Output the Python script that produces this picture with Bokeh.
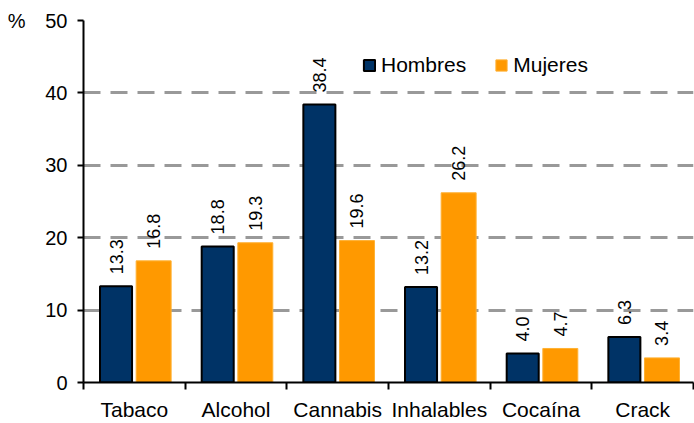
import numpy as np
from bokeh.plotting import figure
from bokeh.models import ColumnDataSource, Range1d, FixedTicker, LinearAxis
from bokeh.transform import dodge
from bokeh.embed import file_html
from bokeh.resources import INLINE
from bokeh.core.properties import value

categories = ["Tabaco", "Alcohol", "Cannabis", "Inhalables", "Cocaína", "Crack"]
hombres = [13.3, 18.8, 38.4, 13.2, 4.0, 6.3]
mujeres = [16.8, 19.3, 19.6, 26.2, 4.7, 3.4]
y_ticks = [0, 10, 20, 30, 40, 50]

FONT = "Liberation Sans"
NAVY = "#003366"
ORANGE = "#FF9900"

xpos = np.arange(len(categories)) + 0.5
src = ColumnDataSource(dict(
    x=xpos,
    hombres=hombres,
    mujeres=mujeres,
    lab_h=[f"{v:.1f}" for v in hombres],
    lab_m=[f"{v:.1f}" for v in mujeres],
))

p = figure(width=694, height=423, output_backend="svg", toolbar_location=None,
           x_range=Range1d(0, len(categories)), y_range=Range1d(0, 50))
p.min_border_left = 83
p.min_border_right = 1
p.min_border_top = 20
p.min_border_bottom = 40
p.outline_line_color = None
p.background_fill_color = "white"

p.vbar(x=dodge("x", -0.18, range=p.x_range), top="hombres", width=0.315, source=src,
       fill_color=NAVY, line_color="black", line_width=2, legend_label="Hombres")
p.vbar(x=dodge("x", 0.19, range=p.x_range), top="mujeres", width=0.344, source=src,
       fill_color=ORANGE, line_color="#FFB133", line_width=1, legend_label="Mujeres")

p.text(x=dodge("x", -0.18, range=p.x_range), y="hombres", text="lab_h", source=src,
       angle=np.pi / 2, text_align="left", text_baseline="middle",
       x_offset=0, y_offset=-12, text_font=value(FONT), text_font_size="18px", text_color="black")
p.text(x=dodge("x", 0.19, range=p.x_range), y="mujeres", text="lab_m", source=src,
       angle=np.pi / 2, text_align="left", text_baseline="middle",
       x_offset=0, y_offset=-12, text_font=value(FONT), text_font_size="18px", text_color="black")

# grid
p.xgrid.grid_line_color = None
p.ygrid.ticker = FixedTicker(ticks=y_ticks[1:])
p.ygrid.grid_line_color = "#999999"
p.ygrid.grid_line_width = 3
p.ygrid.grid_line_dash = "17 10"

# y axis
ya = p.yaxis[0]
ya.ticker = FixedTicker(ticks=y_ticks)
ya.axis_line_color = "black"
ya.axis_line_width = 2
ya.major_tick_line_color = "black"
ya.major_tick_line_width = 2
ya.major_tick_out = 6
ya.major_tick_in = 0
ya.minor_tick_line_color = None
ya.major_label_text_font = FONT
ya.major_label_text_font_size = "20px"
ya.major_label_text_color = "black"
ya.major_label_standoff = 10

# unit label "%" as an extra, line-less axis
unit_axis = LinearAxis(ticker=FixedTicker(ticks=[50]), major_label_overrides={50: "%"},
                       axis_line_color=None, major_tick_line_color=None,
                       minor_tick_line_color=None, major_tick_out=0, major_tick_in=0,
                       major_label_standoff=17, major_label_text_font=FONT,
                       major_label_text_font_size="20px", major_label_text_color="black")
p.add_layout(unit_axis, "left")

# x axis
xa = p.xaxis[0]
xa.ticker = FixedTicker(ticks=list(xpos), minor_ticks=list(range(len(categories) + 1)))
xa.major_label_overrides = {float(x): c for x, c in zip(xpos, categories)}
xa.axis_line_color = "black"
xa.axis_line_width = 2
xa.major_tick_line_color = None
xa.major_tick_out = 0
xa.major_tick_in = 0
xa.minor_tick_line_color = "black"
xa.minor_tick_line_width = 2
xa.minor_tick_out = 7
xa.minor_tick_in = 0
xa.major_label_text_font = FONT
xa.major_label_text_font_size = "21px"
xa.major_label_text_color = "black"
xa.major_label_standoff = 8

# legend
lg = p.legend[0]
lg.orientation = "horizontal"
lg.location = (279, 305)
lg.padding = 0
lg.margin = 0
lg.spacing = 28
lg.glyph_width = 14
lg.glyph_height = 14
lg.label_standoff = 5
lg.label_text_font = FONT
lg.label_text_font_size = "21px"
lg.label_text_color = "black"
lg.background_fill_alpha = 0
lg.border_line_color = None

open("out.html", "w").write(file_html(p, INLINE))
